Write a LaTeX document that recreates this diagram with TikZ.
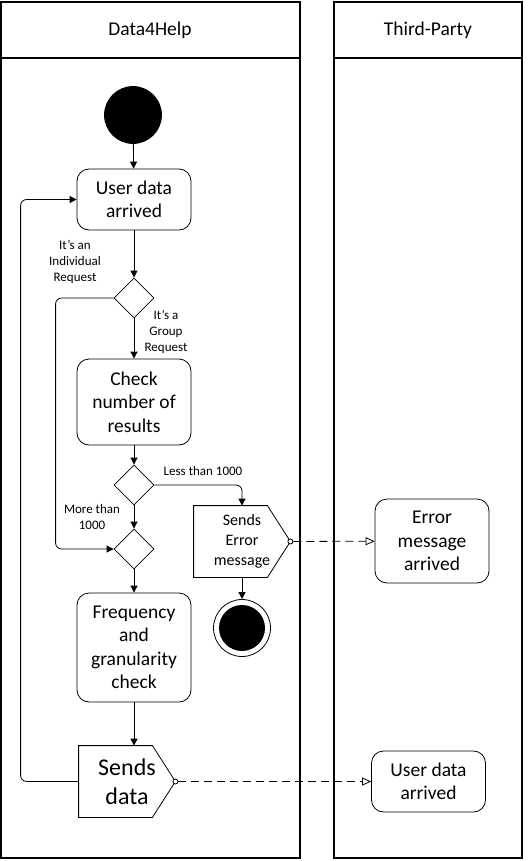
\documentclass[tikz,border=0pt]{standalone}
\usepackage{fontspec}
\setmainfont{Carlito}
\usetikzlibrary{shapes.geometric,arrows.meta}

\begin{document}
\begin{tikzpicture}[x=1pt, y=-1pt, line width=0.8pt,
	act/.style = {draw, rounded corners=12, minimum width=114, minimum height=61, inner sep=0, align=center, font=\fontsize{19.5}{23.5}\selectfont},
	choice/.style = {draw, diamond, minimum width=40, minimum height=40, inner sep=0},
	send/.style = {minimum width=96, minimum height=71, inner sep=0, align=center},
	port/.style = {draw, circle, fill=white, minimum size=5, inner sep=0},
	lbl/.style = {align=center, font=\fontsize{13}{16}\selectfont},
	arr/.style = {-{Triangle[length=7pt,width=7pt]}},
	msg/.style = {dash pattern=on 8pt off 5pt, -{Triangle[open,length=9pt,width=8pt]}}]
		\useasboundingbox (0,0) rectangle (528,861);
		% swimlanes
		\draw[line width=1.2pt] (1,2) rectangle (300,858);
		\draw[line width=1.2pt] (1,58) -- (300,58);
		\draw[line width=1.2pt] (334,2) rectangle (522,858);
		\draw[line width=1.2pt] (334,58) -- (522,58);
		\node[font=\fontsize{19.5}{23.5}\selectfont] (lane1) at (150,30) {Data4Help};
		\node[font=\fontsize{19.5}{23.5}\selectfont] (lane2) at (428,30) {Third-Party};
		% Data4Help
		\node[draw, circle, fill, minimum size=57] (1) at (133,115) {};
		\node[act] (2) at (134,199.5) {User data\\arrived};
		\node[choice] (3) at (134,298) {};
		\node[act, minimum height=86] (4) at (134,402) {Check\\number of\\results};
		\node[choice] (5) at (134,485) {};
		\node[choice] (6) at (134,549) {};
		\node[act, minimum height=109] (7) at (134,647.5) {Frequency\\and\\granularity\\check};
		\node[send, font=\fontsize{16}{20}\selectfont] (8) at (242,541.5) {Sends\\Error\\message};
		\node[draw, circle, minimum size=57, path picture={\fill (path picture bounding box.center) circle (23);}] (10) at (242,628) {};
		\node[send, font=\fontsize{24}{29}\selectfont] (11) at (127,781.5) {Sends\\data};
		\draw (8.north west) -- ([xshift=-23]8.north east) -- (8.east) -- ([xshift=-23]8.south east) -- (8.south west) -- cycle;
		\draw (11.north west) -- ([xshift=-23]11.north east) -- (11.east) -- ([xshift=-23]11.south east) -- (11.south west) -- cycle;
		\node[port] (8p) at (8.east) {};
		\node[port] (11p) at (11.east) {};
		% Third-Party
		\node[act, minimum height=84] (9) at (432,541) {Error\\message\\arrived};
		\node[act] (12) at (428.5,781.5) {User data\\arrived};
		% guards
		\node[lbl] (g1) at (75,262) {It’s an\\Individual\\Request};
		\node[lbl] (g2) at (166,332) {It’s a\\Group\\Request};
		\node[lbl] (g3) at (203,471) {Less than 1000};
		\node[lbl] (g4) at (92,517.5) {More than\\1000};
		% flows
		\draw[arr] (1) -- (2);
		\draw[arr] (2) -- (3);
		\draw[arr] (3) -- (4);
		\draw[arr, rounded corners=6] (3.west) -| ([xshift=-58]6.west) -- (6.west);
		\draw[arr] (4) -- (5);
		\draw[arr, rounded corners=6] (5.east) -| (8.north);
		\draw[arr] (5) -- (6);
		\draw[arr] (6) -- (7);
		\draw[arr] (8) -- (10);
		\draw[arr] (7.south) -- (7.south |- 11.north);
		\draw[arr, rounded corners=6] (11.west) -| ([xshift=-56]2.west) -- (2.west);
		\draw[msg] (8p) -- (9);
		\draw[msg] (11p) -- (12);
	\end{tikzpicture}
\end{document}
